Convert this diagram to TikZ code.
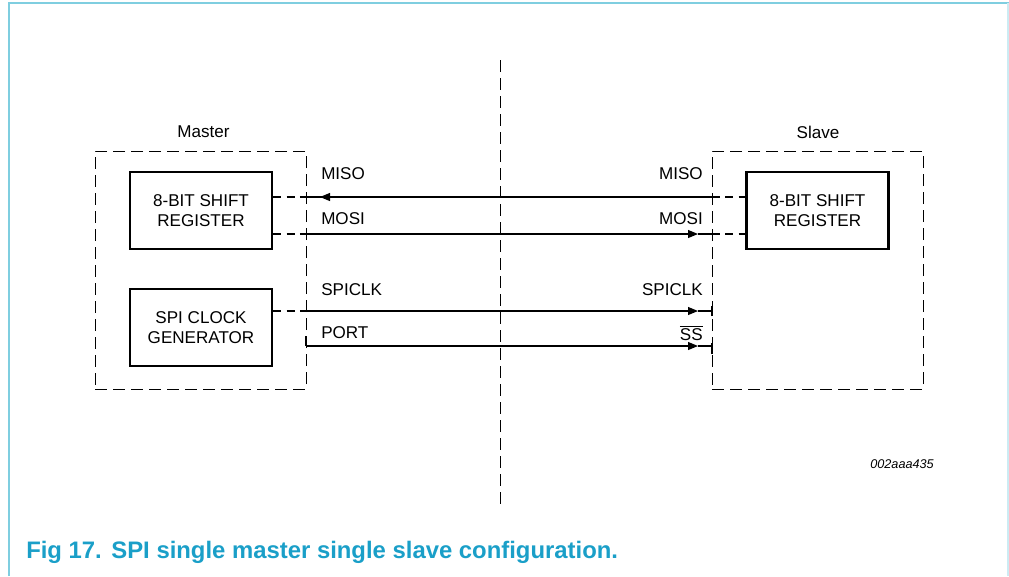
\documentclass[tikz,border=0pt]{standalone}
\usepackage{fontspec}
\setmainfont{Liberation Sans}
\usetikzlibrary{arrows.meta}
\definecolor{frameblue}{HTML}{7FCEE0}
\definecolor{capblue}{HTML}{1A9FC8}
\begin{document}
\begin{tikzpicture}[x=0.75pt,y=-0.75pt,
  lbl/.style={font=\fontsize{12.8}{14}\selectfont, inner sep=0pt},
  block/.style={draw, line width=1.8pt, minimum width=142*0.75pt, minimum height=77*0.75pt,
     align=center, font=\fontsize{12.8}{15.5}\selectfont, inner sep=0pt},
  group/.style={draw, dash pattern=on 9pt off 4.5pt, line width=0.7pt},
  dsh/.style={dash pattern=on 6pt off 4pt, line width=0.8pt},
  sig/.style={line width=0.8pt},
  tip/.style={-{Triangle[length=7.5pt,width=6pt]}},
]
\useasboundingbox (0,0) rectangle (1009,576);
% frame
\draw[frameblue, line width=1.5pt] (9,576) -- (9,3) -- (1009,3);
\draw[frameblue!40, line width=1pt] (1008,3) -- (1008,576);

% center divider
\coordinate (divtop) at (500,60);
\coordinate (divbot) at (500,508);
\draw[group] (divtop) -- (divbot);

% groups
\node[group, minimum width=211*0.75pt, minimum height=238*0.75pt, inner sep=0pt] (mgrp) at (200.5,270) {};
\node[group, minimum width=211*0.75pt, minimum height=238*0.75pt, inner sep=0pt] (sgrp) at (817.5,270) {};
\node[lbl] (mlab) at (203.5,132) {Master};
\node[lbl] (slab) at (818,132) {Slave};

% blocks
\node[block] (msr) at (201,210.5) {8-BIT SHIFT\\REGISTER};
\node[block] (mclk) at (201,327.5) {SPI CLOCK\\GENERATOR};
\node[block] (ssr) at (817.5,210.5) {8-BIT SHIFT\\REGISTER};

% coordinates on boundaries
\coordinate (mL1) at (306,197);
\coordinate (mL2) at (306,234);
\coordinate (mL3) at (306,311);
\coordinate (mL4) at (306,346);
\coordinate (sR1) at (712,197);
\coordinate (sR2) at (712,234);
\coordinate (sR3) at (712,311);
\coordinate (sR4) at (712,346);
\coordinate (a1) at (320,197);
\coordinate (a2) at (698,234);
\coordinate (a3) at (698,311);
\coordinate (a4) at (698,346);

% MISO
\draw[dsh] (msr.east |- mL1) -- (mL1);
\draw[sig] (mL1) -- (sR1);
\draw[sig, tip] (330,197) -- (a1);
\draw[dsh] (sR1) -- (ssr.west |- sR1);
% MOSI
\draw[dsh] (msr.east |- mL2) -- (mL2);
\draw[sig, tip] (mL2) -- (a2);
\draw[sig] (a2) -- (sR2);
\draw[dsh] (sR2) -- (ssr.west |- sR2);
% SPICLK
\draw[dsh] (mclk.east |- mL3) -- (mL3);
\draw[sig, tip] (mL3) -- (a3);
\draw[sig] (a3) -- (sR3);
\draw[sig] ([yshift=-5*0.75pt]sR3) -- ([yshift=5*0.75pt]sR3);
% PORT / SS
\draw[sig] ([yshift=10*0.75pt]mL4) -- (mL4);
\draw[sig, tip] (mL4) -- (a4);
\draw[sig] (a4) -- (sR4);
\draw[sig] ([yshift=-8*0.75pt]sR4) -- ([yshift=3*0.75pt]sR4);

% labels
\node[lbl, anchor=west] (lmiso) at (321,174) {MISO};
\node[lbl, anchor=west] (lmosi) at (321,219) {MOSI};
\node[lbl, anchor=west] (lclk) at (321,290) {SPICLK};
\node[lbl, anchor=west] (lport) at (321,333) {PORT};
\node[lbl, anchor=east] (rmiso) at (703,174) {MISO};
\node[lbl, anchor=east] (rmosi) at (703,219) {MOSI};
\node[lbl, anchor=east] (rclk) at (703,290) {SPICLK};
\node[lbl, anchor=east] (rss) at (703,333) {$\overline{\mbox{SS}}$};

% id
\node[font=\fontsize{9.5}{11}\selectfont\itshape, anchor=east, inner sep=0pt] (fid) at (934,464) {002aaa435};

% caption
\node[font=\fontsize{17.9}{20}\selectfont\bfseries, text=capblue, anchor=west, inner sep=0pt] (cap) at (26,552)
  {Fig 17.\hspace{0.4em}SPI single master single slave configuration.};
\end{tikzpicture}
\end{document}
